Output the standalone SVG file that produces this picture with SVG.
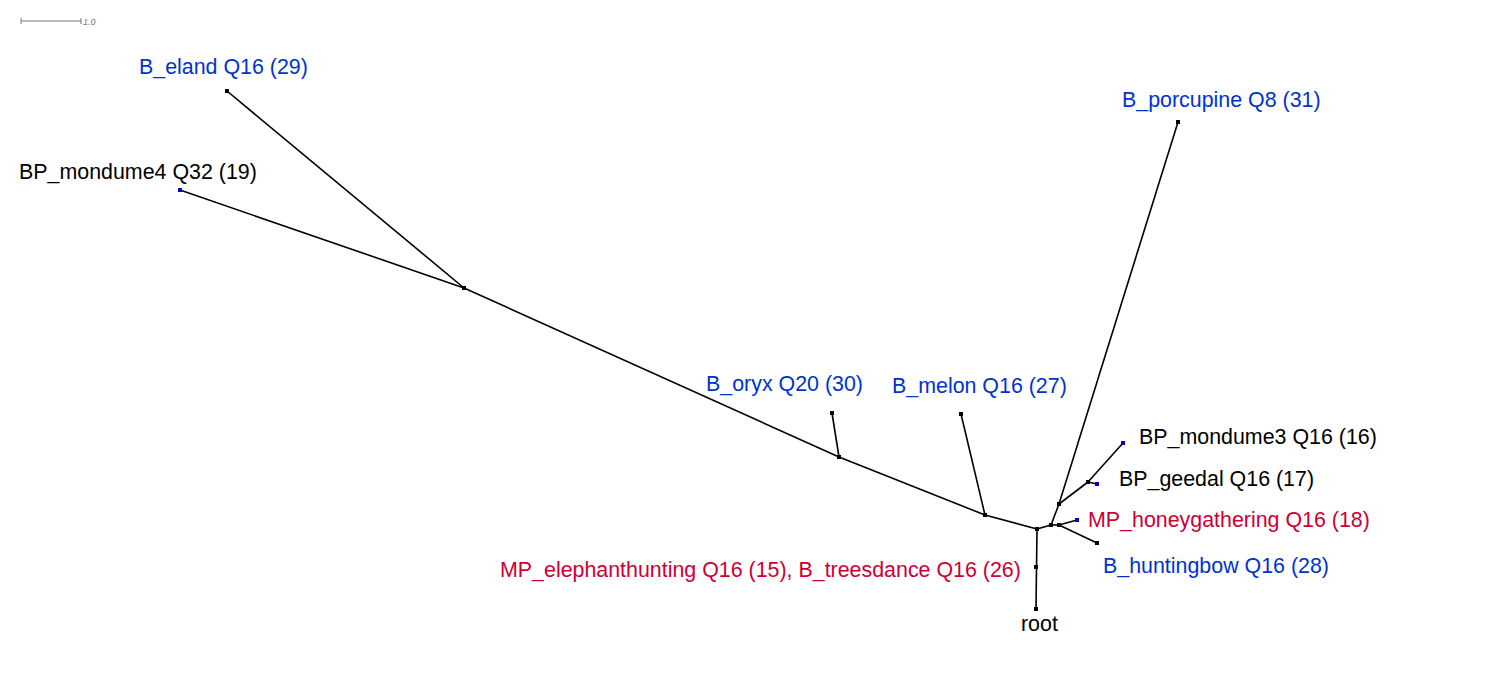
<svg xmlns="http://www.w3.org/2000/svg" width="1506" height="700" viewBox="0 0 1506 700">
<style>
.e{stroke:#000;stroke-width:1.6;fill:none}
.n{fill:#000}
.b{fill:#0000cc}
text{font-family:"Liberation Sans",Arial,sans-serif;font-size:21.4px}
.tb{fill:#0033cc}
.tk{fill:#000}
.tr{fill:#cc0033}
</style>
<rect width="1506" height="700" fill="#fff"/>
<g id="scale">
<path d="M21 21H81M21 18V24M81 18V24" stroke="#777" stroke-width="1" fill="none"/>
<text x="83" y="25" style="font-size:9px;font-style:italic" fill="#777">1.0</text>
</g>
<g id="edges">
<path class="e" d="M1036 609L1037 529"/>
<path class="e" d="M1037 529L985 515"/>
<path class="e" d="M985 515L839 457"/>
<path class="e" d="M985 515L961 414"/>
<path class="e" d="M839 457L464 288"/>
<path class="e" d="M839 457L832 413"/>
<path class="e" d="M464 288L227 91"/>
<path class="e" d="M464 288L180 190"/>
<path class="e" d="M1037 529L1051 525"/>
<path class="e" d="M1051 525L1059 504"/>
<path class="e" d="M1059 504L1178 122"/>
<path class="e" d="M1059 504L1088 482"/>
<path class="e" d="M1088 482L1123 443"/>
<path class="e" d="M1088 482L1097 484"/>
<path class="e" d="M1051 525L1059 525"/>
<path class="e" d="M1059 525L1077 520"/>
<path class="e" d="M1059 525L1097 543"/>
</g>
<g id="root"><rect class="n" x="1034" y="607" width="4" height="4"/><text class="tk" x="1021" y="631">root</text></g>
<g id="internal">
<rect class="n" x="1035" y="527" width="4" height="4"/>
<rect class="n" x="1034" y="565" width="4" height="4"/>
<rect class="n" x="983" y="513" width="4" height="4"/>
<rect class="n" x="837" y="455" width="4" height="4"/>
<rect class="n" x="462" y="286" width="4" height="4"/>
<rect class="n" x="1049" y="523" width="4" height="4"/>
<rect class="n" x="1057" y="502" width="4" height="4"/>
<rect class="n" x="1057" y="523" width="4" height="4"/>
<rect class="n" x="1086" y="480" width="4" height="4"/>
</g>
<g id="n_eland"><rect class="n" x="225" y="89" width="4" height="4"/><text class="tb" x="139" y="74">B_eland Q16 (29)</text></g>
<g id="n_mondume4"><rect class="b" x="178" y="188" width="4" height="4"/><text class="tk" x="19" y="179">BP_mondume4 Q32 (19)</text></g>
<g id="n_porcupine"><rect class="n" x="1176" y="120" width="4" height="4"/><text class="tb" x="1122" y="107">B_porcupine Q8 (31)</text></g>
<g id="n_oryx"><rect class="n" x="830" y="411" width="4" height="4"/><text class="tb" x="706" y="391">B_oryx Q20 (30)</text></g>
<g id="n_melon"><rect class="n" x="959" y="412" width="4" height="4"/><text class="tb" x="892" y="393">B_melon Q16 (27)</text></g>
<g id="n_mondume3"><rect class="b" x="1121" y="441" width="4" height="4"/><text class="tk" x="1139" y="444">BP_mondume3 Q16 (16)</text></g>
<g id="n_geedal"><rect class="b" x="1095" y="482" width="4" height="4"/><text class="tk" x="1119" y="486">BP_geedal Q16 (17)</text></g>
<g id="n_honey"><rect class="b" x="1075" y="518" width="4" height="4"/><text class="tr" x="1088" y="527">MP_honeygathering Q16 (18)</text></g>
<g id="n_huntingbow"><rect class="n" x="1095" y="541" width="4" height="4"/><text class="tb" x="1103" y="573">B_huntingbow Q16 (28)</text></g>
<g id="n_elephant"><text class="tr" x="500" y="577">MP_elephanthunting Q16 (15), B_treesdance Q16 (26)</text></g>
</svg>
